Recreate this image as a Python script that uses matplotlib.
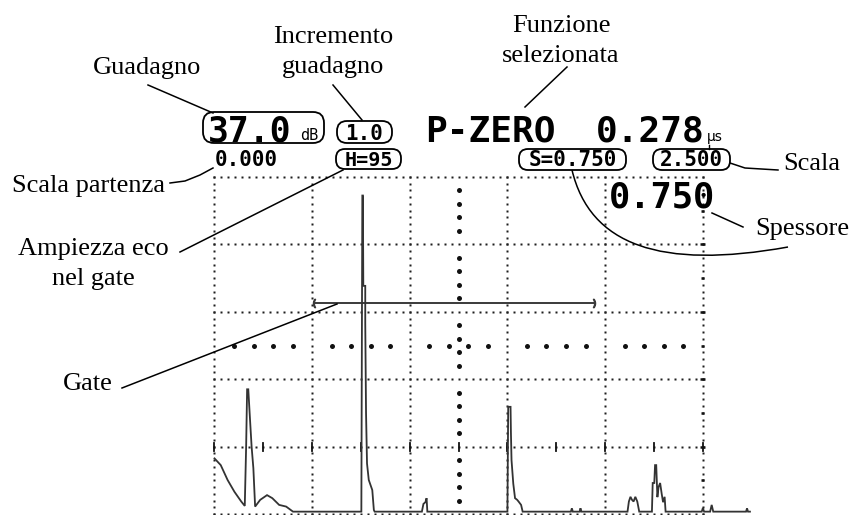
import matplotlib
matplotlib.use("Agg")
import matplotlib.pyplot as plt
import numpy as np
from matplotlib.patches import FancyBboxPatch, PathPatch
from matplotlib.path import Path

# A-scan trace: time in scale units (0..2.5), amplitude in % of screen height
trace_time = [0.000, 0.032, 0.067, 0.102, 0.137, 0.155, 0.162, 0.167, 0.173, 0.181, 0.190, 0.199,
              0.208, 0.234, 0.269, 0.296, 0.331, 0.367, 0.402,
              0.752, 0.757, 0.760, 0.762, 0.772, 0.772, 0.776, 0.781, 0.790, 0.808, 0.816, 0.820,
              1.062, 1.070, 1.080, 1.086, 1.090,
              1.500, 1.504, 1.516, 1.518, 1.521, 1.530, 1.539, 1.550, 1.557, 1.570, 1.578,
              1.825, 1.830, 1.835, 1.870, 1.874, 1.879,
              2.115, 2.122, 2.130, 2.138, 2.146, 2.155, 2.165, 2.175,
              2.240, 2.244, 2.252, 2.256, 2.262, 2.268, 2.274, 2.282, 2.290, 2.297, 2.305, 2.310,
              2.495, 2.501, 2.507, 2.538, 2.546, 2.554, 2.722, 2.727, 2.732, 2.742]
trace_amp = [16.5, 14.5, 10.1, 6.6, 3.7, 2.4, 20.0, 37.0, 37.0, 28.9, 20.0, 13.6,
             2.2, 4.2, 5.6, 4.7, 2.7, 2.2, 0.7,
             0.7, 94.5, 94.5, 67.7, 67.7, 56.7, 30.0, 15.0, 10.1, 7.1, 1.2, 0.7,
             0.7, 3.0, 3.5, 4.7, 0.7,
             0.7, 31.8, 31.8, 24.0, 16.0, 9.0, 4.7, 4.2, 3.7, 2.7, 0.7,
             0.7, 1.7, 0.7, 0.7, 1.7, 0.7,
             0.7, 3.7, 5.1, 4.2, 3.7, 5.1, 3.7, 0.7,
             0.7, 9.2, 9.2, 14.5, 14.5, 5.0, 8.0, 9.2, 6.0, 3.5, 5.1, 0.7,
             0.7, 1.8, 0.7, 0.7, 2.7, 0.7, 0.7, 1.7, 0.7, 0.7]

gate_start = 0.51
gate_end = 1.945
gate_level = 62.5

scale_range = 2.5
divisions = 5

# screen readouts
gain_text = "37.0"
gain_step = "1.0"
function_name = "P-ZERO"
function_value = "0.278"
start_text = "0.000"
echo_text = "H=95"
sound_path = "S=0.750"
range_text = "2.500"
thickness_text = "0.750"

W, H = 853, 515
fig = plt.figure(figsize=(W / 100, H / 100), dpi=100)
fig.patch.set_facecolor("white")

# screen axes: grid spans px 214.5..702.7 horizontally, 177..514 vertically
sc = fig.add_axes([214.5 / W, 1 - 514 / H, 488.2 / W, 337 / H])
sc.set_xlim(0, scale_range)
sc.set_ylim(0, 100)
sc.axis("off")

dot = dict(ls="none", marker="s", ms=1.6, color="#1e1e1e", mec="none", clip_on=False)
big = dict(ls="none", marker="o", ms=3.6, color="#111111", mec="none", clip_on=False)
div_w = scale_range / divisions

# horizontal dotted lines
hx = np.arange(0, scale_range + 1e-9, div_w / 14)
for lev in range(0, 101, 20):
    sc.plot(hx, np.full(hx.shape, float(lev)), **dot)
# vertical dotted lines
vy = np.arange(0, 100.01, 2.0)
for k in range(divisions + 1):
    sc.plot(np.full(vy.shape, k * div_w), vy, **dot)
# centre cross of big dots
cy = np.array([v for v in np.arange(4.0, 100.0, 4.0) if v % 20 != 0])
sc.plot(np.full(cy.shape, scale_range / 2), cy, **big)
cx = np.array([v for v in np.arange(0.1, scale_range, 0.1) if abs(v / div_w - round(v / div_w)) > 1e-6])
sc.plot(cx, np.full(cx.shape, 50.0), **big)
# right edge ticks
for lev in range(10, 100, 10):
    half = 0.012 if lev % 20 == 0 else 0.007
    sc.plot([scale_range - half, scale_range + half], [lev, lev], color="#111111", lw=1.8,
            solid_capstyle="butt", clip_on=False)
# small ticks on the 20% line
for k in np.arange(0, scale_range + 1e-9, div_w / 2):
    sc.plot([k, k], [18.8, 21.2], color="#111111", lw=1.3, clip_on=False)

# gate
sc.plot([gate_start, gate_end], [gate_level, gate_level], color="#3a3a3a", lw=1.4, clip_on=False)
sc.plot([gate_start], [gate_level], ls="none", marker="$($", ms=6, color="#3a3a3a", clip_on=False)
sc.plot([gate_end], [gate_level], ls="none", marker="$)$", ms=6, color="#3a3a3a", clip_on=False)

# echo trace
sc.plot(trace_time, trace_amp, color="#333333", lw=1.3, solid_joinstyle="miter", clip_on=False)

# overlay in pixel coordinates for readouts and callouts
ov = fig.add_axes([0, 0, 1, 1])
ov.set_xlim(0, W)
ov.set_ylim(H, 0)
ov.axis("off")
ov.patch.set_alpha(0)

mono = dict(family="DejaVu Sans Mono", weight="bold", color="black")


def box(x0, y0, x1, y1, r=9):
    ov.add_patch(FancyBboxPatch((x0, y0), x1 - x0, y1 - y0,
                                boxstyle=f"round,pad=0,rounding_size={r}",
                                fc="none", ec="black", lw=1.3))


box(203, 112, 324, 143, r=11)
ov.text(208, 141, gain_text, fontsize=25, ha="left", va="baseline", **mono)
ov.text(300, 140, "dB", fontsize=11, ha="left", va="baseline", family="DejaVu Sans Mono", color="black")
box(337, 121, 392, 143, r=10)
ov.text(364.5, 139.5, gain_step, fontsize=15, ha="center", va="baseline", **mono)
ov.text(425, 141, function_name, fontsize=26, ha="left", va="baseline", **mono)
ov.text(596, 141, function_value, fontsize=26, ha="left", va="baseline", **mono)
ov.text(707, 141, "\u03bcs", fontsize=10, ha="left", va="baseline", family="DejaVu Sans", color="black")
ov.text(215, 166, start_text, fontsize=15, ha="left", va="baseline", **mono)
box(336, 149, 401, 169, r=9)
ov.text(368.5, 165.5, echo_text, fontsize=14.5, ha="center", va="baseline", **mono)
box(519, 149, 626, 170, r=9)
ov.text(572.5, 166, sound_path, fontsize=15, ha="center", va="baseline", **mono)
box(653, 149, 730, 170, r=9)
ov.text(691.5, 166, range_text, fontsize=15, ha="center", va="baseline", **mono)
ov.plot([709, 709], [145, 149], color="black", lw=1)
ov.text(609, 208, thickness_text, fontsize=25.5, ha="left", va="baseline", **mono)

# callout labels
serif = dict(family="Liberation Serif", fontsize=19, color="black", va="baseline")
ov.text(561, 32, "Funzione", ha="center", **serif)
ov.text(561, 62, "selezionata", ha="center", **serif)
ov.text(333, 43, "Incremento", ha="center", **serif)
ov.text(333, 73, "guadagno", ha="center", **serif)
ov.text(147, 74, "Guadagno", ha="center", **serif)
ov.text(12, 192, "Scala partenza", ha="left", **serif)
ov.text(783, 170, "Scala", ha="left", **serif)
ov.text(755, 235, "Spessore", ha="left", **serif)
ov.text(93, 255, "Ampiezza eco", ha="center", **serif)
ov.text(93, 285, "nel gate", ha="center", **serif)
ov.text(88, 390, "Gate", ha="center", **serif)

lk = dict(color="black", lw=1.1)
ov.plot([148, 213], [85, 113], **lk)
ov.plot([333, 362], [85, 120], **lk)
ov.plot([170, 185, 200, 213], [183, 181, 175, 168], **lk)
ov.plot([567, 525], [67, 107], **lk)
ov.plot([730, 745, 778], [163, 168, 170], **lk)
ov.plot([712, 743], [213, 227], **lk)
ov.plot([180, 343], [252, 170], **lk)
ov.plot([122, 337], [388, 304], **lk)
curve = Path([(572, 170), (590, 245), (660, 270), (788, 247)],
             [Path.MOVETO, Path.CURVE4, Path.CURVE4, Path.CURVE4])
ov.add_patch(PathPatch(curve, fc="none", ec="black", lw=1.1))

fig.savefig("out.png", dpi=100, facecolor="white")
